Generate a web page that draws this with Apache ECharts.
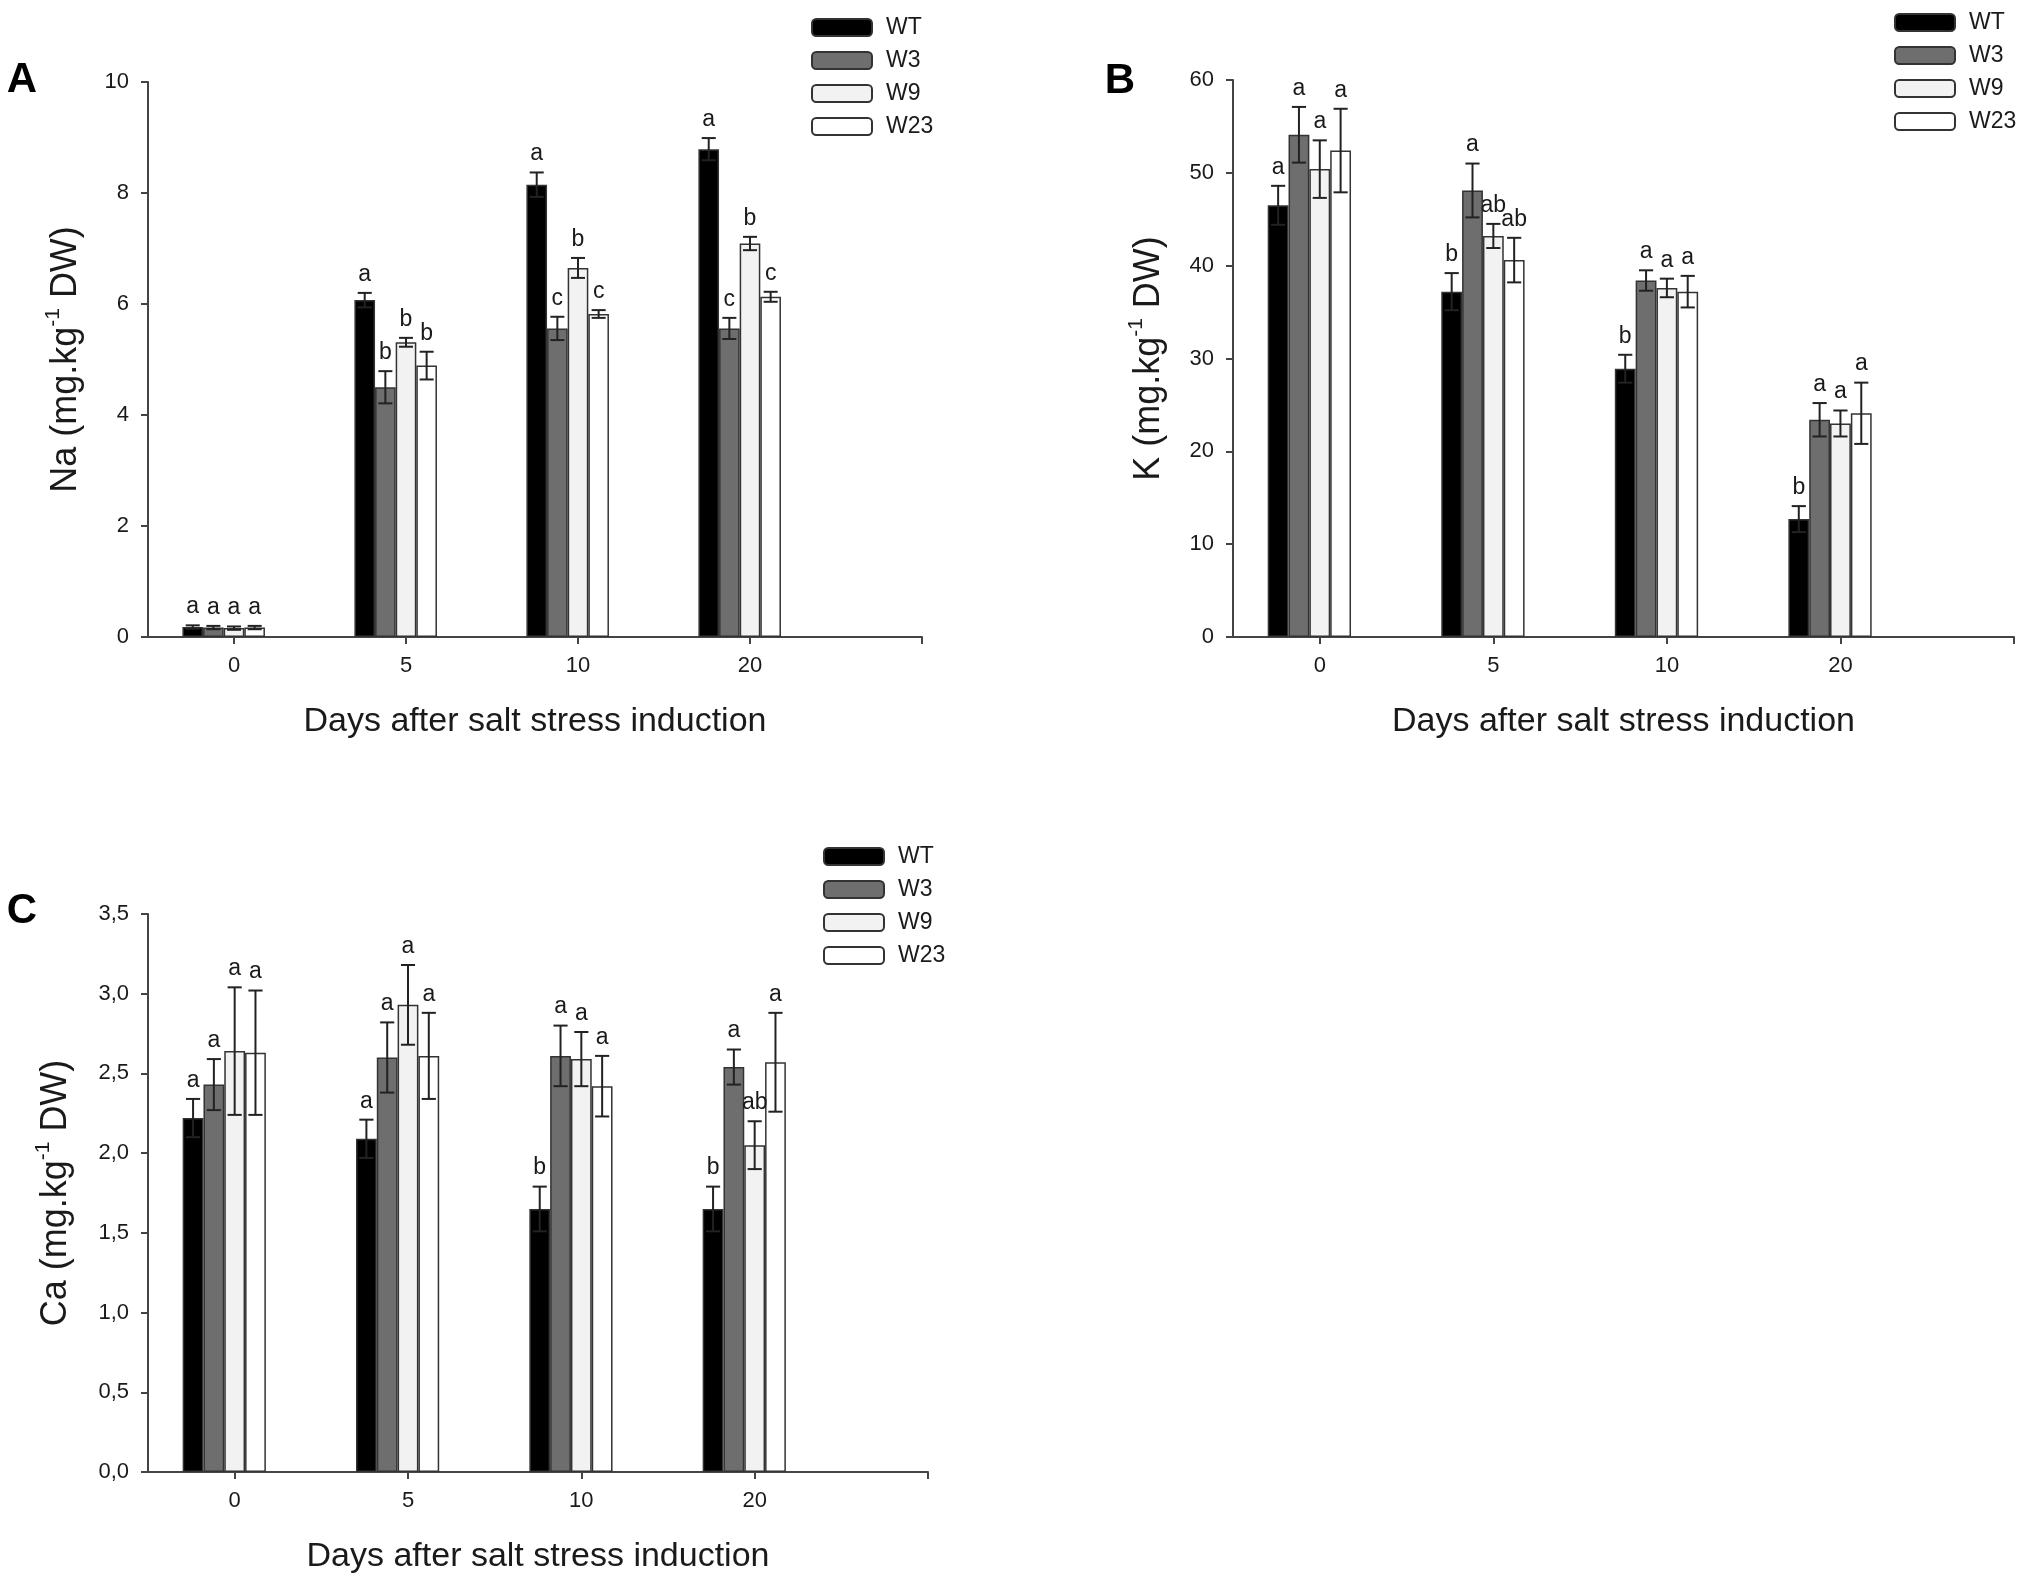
<!DOCTYPE html>
<html><head><meta charset="utf-8">
<script src="https://cdn.jsdelivr.net/npm/echarts@6/dist/echarts.min.js"></script>
<style>html,body{margin:0;padding:0;background:#fff}#c{width:2030px;height:1585px}</style>
</head><body><div id="c"></div>
<script>
// ---- data ----
const days = ['0', '5', '10', '20'];
const lines = ['WT', 'W3', 'W9', 'W23'];

// Panel A: Na
const naWT = [0.18, 6.07, 8.15, 8.79];
const naW3 = [0.17, 4.50, 5.56, 5.56];
const naW9 = [0.16, 5.31, 6.65, 7.09];
const naW23 = [0.17, 4.89, 5.82, 6.13];
const naWTErr = [0.03, 0.13, 0.22, 0.20];
const naW3Err = [0.03, 0.29, 0.21, 0.19];
const naW9Err = [0.03, 0.08, 0.18, 0.12];
const naW23Err = [0.03, 0.25, 0.07, 0.09];
const naWTLet = ['a', 'a', 'a', 'a'];
const naW3Let = ['a', 'b', 'c', 'c'];
const naW9Let = ['a', 'b', 'b', 'b'];
const naW23Let = ['a', 'b', 'c', 'c'];

// Panel B: K
const kWT = [46.5, 37.2, 28.9, 12.7];
const kW3 = [54.1, 48.1, 38.4, 23.4];
const kW9 = [50.4, 43.2, 37.6, 23.0];
const kW23 = [52.4, 40.6, 37.2, 24.1];
const kWTErr = [2.1, 2.0, 1.5, 1.4];
const kW3Err = [3.0, 2.9, 1.1, 1.8];
const kW9Err = [3.1, 1.3, 1.0, 1.4];
const kW23Err = [4.5, 2.4, 1.7, 3.3];
const kWTLet = ['a', 'b', 'b', 'b'];
const kW3Let = ['a', 'a', 'a', 'a'];
const kW9Let = ['a', 'ab', 'a', 'a'];
const kW23Let = ['a', 'ab', 'a', 'a'];

// Panel C: Ca
const caWT = [2.22, 2.09, 1.65, 1.65];
const caW3 = [2.43, 2.60, 2.61, 2.54];
const caW9 = [2.64, 2.93, 2.59, 2.05];
const caW23 = [2.63, 2.61, 2.42, 2.57];
const caWTErr = [0.12, 0.12, 0.14, 0.14];
const caW3Err = [0.16, 0.22, 0.19, 0.11];
const caW9Err = [0.40, 0.25, 0.17, 0.15];
const caW23Err = [0.39, 0.27, 0.19, 0.31];
const caWTLet = ['a', 'a', 'b', 'b'];
const caW3Let = ['a', 'a', 'a', 'a'];
const caW9Let = ['a', 'a', 'a', 'ab'];
const caW23Let = ['a', 'a', 'a', 'a'];

// ---- styling / layout ----
const FONT = '"Liberation Sans", Arial, Helvetica, sans-serif';
const fills = ['#000000', '#6e6e6e', '#f2f2f2', '#ffffff'];
const AX = '#444';
const TXT = '#1a1a1a';

const panels = [
  { tag: 'A', tagPos: [22, 80], elem: 'Na', grid: { left: 148, top: 82, width: 774, height: 555 },
    max: 10, interval: 2, dec: 0, nameGap: 59,
    vals: [naWT, naW3, naW9, naW23], errs: [naWTErr, naW3Err, naW9Err, naW23Err],
    lets: [naWTLet, naW3Let, naW9Let, naW23Let], legend: { left: 806, top: 11 } },
  { tag: 'B', tagPos: [1120, 81], elem: 'K', grid: { left: 1233, top: 80, width: 781, height: 557 },
    max: 60, interval: 10, dec: 0, nameGap: 61,
    vals: [kWT, kW3, kW9, kW23], errs: [kWTErr, kW3Err, kW9Err, kW23Err],
    lets: [kWTLet, kW3Let, kW9Let, kW23Let], legend: { left: 1889, top: 6 } },
  { tag: 'C', tagPos: [22, 911], elem: 'Ca', grid: { left: 148, top: 914, width: 780, height: 558 },
    max: 3.5, interval: 0.5, dec: 1, nameGap: 69,
    vals: [caWT, caW3, caW9, caW23], errs: [caWTErr, caW3Err, caW9Err, caW23Err],
    lets: [caWTLet, caW3Let, caW9Let, caW23Let], legend: { left: 818, top: 840 } }
];

const grids = [], xAxes = [], yAxes = [], series = [], legends = [], graphics = [];

panels.forEach((p, gi) => {
  grids.push(Object.assign({ containLabel: false, outerBoundsMode: 'none' }, p.grid));
  xAxes.push({
    gridIndex: gi, type: 'value', min: -0.5, max: 4,
    axisLine: { show: true, onZero: false, lineStyle: { color: AX, width: 2 } },
    axisTick: { show: true, customValues: [0, 1, 2, 3, 4], length: 7, lineStyle: { color: AX, width: 2 } },
    axisLabel: { customValues: [0, 1, 2, 3], formatter: v => days[Math.round(v)] || '',
      fontSize: 22, color: TXT, margin: 18, fontFamily: FONT },
    splitLine: { show: false },
    name: 'Days after salt stress induction', nameLocation: 'middle', nameGap: 68,
    nameTextStyle: { fontSize: 34, color: TXT, fontFamily: FONT }
  });
  yAxes.push({
    gridIndex: gi, type: 'value', min: 0, max: p.max, interval: p.interval,
    axisLine: { show: true, onZero: false, lineStyle: { color: AX, width: 2 } },
    axisTick: { show: true, length: 7, lineStyle: { color: AX, width: 2 } },
    axisLabel: { fontSize: 22, color: TXT, margin: 19, fontFamily: FONT,
      formatter: v => v.toFixed(p.dec).replace('.', ',') },
    splitLine: { show: false },
    name: '{n|' + p.elem + ' (mg.kg}{s|-1}{n| DW)}', nameLocation: 'middle', nameGap: p.nameGap, nameRotate: 90,
    nameTextStyle: { color: TXT, fontFamily: FONT,
      rich: { n: { fontSize: 36, lineHeight: 46, color: TXT, fontFamily: FONT },
              s: { fontSize: 21, lineHeight: 21, verticalAlign: 'top', color: TXT, fontFamily: FONT } } }
  });

  lines.forEach((ln, i) => {
    series.push({
      type: 'bar', name: ln, xAxisIndex: gi, yAxisIndex: gi,
      data: p.vals[i].map((v, k) => [k, v]),
      barWidth: '12%', barGap: '0%',
      itemStyle: { color: fills[i], borderColor: '#333', borderWidth: 1.5 },
      emphasis: { disabled: true }, z: 2
    });
  });
  // empty fifth slot (the reference groups leave room for one more bar on the right)
  series.push({ type: 'bar', name: '_slot' + gi, xAxisIndex: gi, yAxisIndex: gi, data: [],
    barWidth: '12%', barGap: '0%', silent: true });

  lines.forEach((ln, i) => {
    const letters = p.lets[i];
    series.push({
      type: 'custom', name: ln + ' err', xAxisIndex: gi, yAxisIndex: gi, z: 6, silent: true,
      data: p.vals[i].map((v, k) => [k, v, p.errs[i][k]]),
      renderItem: (params, api) => {
        const x = api.value(0), v = api.value(1), e = api.value(2);
        const band = api.size([1, 0])[0];
        const slot = band * 0.12;
        const cx = api.coord([x, v])[0] + (i - 2) * slot;
        const yT = api.coord([x, v + e])[1];
        const yB = api.coord([x, Math.max(0, v - e)])[1];
        const cap = slot * 0.34;
        const st = { stroke: '#222', lineWidth: 2 };
        return { type: 'group', children: [
          { type: 'line', shape: { x1: cx, y1: yT, x2: cx, y2: yB }, style: st },
          { type: 'line', shape: { x1: cx - cap, y1: yT, x2: cx + cap, y2: yT }, style: st },
          { type: 'line', shape: { x1: cx - cap, y1: yB, x2: cx + cap, y2: yB }, style: st },
          { type: 'text', x: cx, y: yT - 7, style: { text: letters[params.dataIndex], fill: TXT,
              fontSize: 23, fontFamily: FONT, align: 'center', verticalAlign: 'bottom' } }
        ] };
      }
    });
  });

  legends.push({
    left: p.legend.left, top: p.legend.top, orient: 'vertical', data: lines.slice(),
    itemWidth: 60, itemHeight: 17, itemGap: 10, icon: 'roundRect', selectedMode: false,
    textStyle: { fontSize: 23, color: TXT, fontFamily: FONT, padding: [0, 0, 0, 9] }
  });

  graphics.push({ type: 'text', x: p.tagPos[0], y: p.tagPos[1],
    style: { text: p.tag, fontSize: 42, fontWeight: 'bold', fontFamily: FONT, fill: '#000',
      align: 'center', verticalAlign: 'middle' } });
});

const chart = echarts.init(document.getElementById('c'), null, { renderer: 'canvas' });
chart.setOption({
  backgroundColor: '#ffffff', animation: false,
  grid: grids, xAxis: xAxes, yAxis: yAxes, series: series, legend: legends, graphic: graphics,
  tooltip: { show: false }
});
</script></body></html>
